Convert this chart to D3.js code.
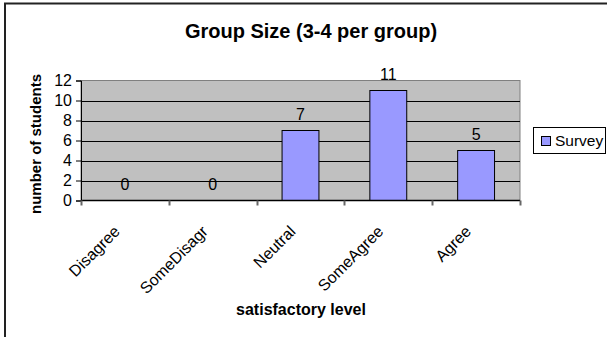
<!DOCTYPE html>
<html>
<head>
<meta charset="utf-8">
<script src="https://cdn.jsdelivr.net/npm/d3@7"></script>
<style>
  html, body { margin: 0; padding: 0; background: #fff; }
  svg { display: block; }
  text { font-family: Arial, "Liberation Sans", sans-serif; fill: #000; }
</style>
</head>
<body>
<svg id="chart" width="607" height="337"></svg>
<script>
// Survey responses by satisfaction level
const categories = ["Disagree", "SomeDisagr", "Neutral", "SomeAgree", "Agree"];
const surveyValues = [0, 0, 7, 11, 5];
const yTicks = [0, 2, 4, 6, 8, 10, 12];
const seriesName = "Survey";
const chartTitle = "Group Size (3-4 per group)";
const xTitle = "satisfactory level";
const yTitle = "number of students";

const svg = d3.select("#chart");

// outer chart frame
svg.append("rect")
  .attr("x", 5).attr("y", 3.5)
  .attr("width", 620).attr("height", 360)
  .attr("fill", "#fff").attr("stroke", "#222").attr("stroke-width", 2);

const plot = { left: 81, right: 520, top: 80.5, bottom: 200.5 };

const x = d3.scaleBand().domain(categories).range([plot.left, plot.right]).padding(0);
const y = d3.scaleLinear().domain([0, 12]).range([plot.bottom, plot.top]);
const barW = x.bandwidth() * 0.42;

// plot area background
svg.append("rect")
  .attr("x", plot.left).attr("y", plot.top)
  .attr("width", plot.right - plot.left).attr("height", plot.bottom - plot.top)
  .attr("fill", "#c0c0c0").attr("stroke", "#808080").attr("stroke-width", 1);

// horizontal gridlines
svg.append("g").selectAll("line")
  .data(yTicks.filter(t => t > 0 && t < 12))
  .join("line")
  .attr("x1", plot.left).attr("x2", plot.right)
  .attr("y1", d => Math.round(y(d)) + 0.5).attr("y2", d => Math.round(y(d)) + 0.5)
  .attr("stroke", "#000").attr("stroke-width", 1);

// bars
svg.append("g").selectAll("rect")
  .data(categories.map((c, i) => ({ c, v: surveyValues[i] })).filter(d => d.v > 0))
  .join("rect")
  .attr("x", d => x(d.c) + x.bandwidth() / 2 - barW / 2)
  .attr("y", d => y(d.v))
  .attr("width", barW)
  .attr("height", d => y(0) - y(d.v))
  .attr("fill", "#9999ff").attr("stroke", "#000").attr("stroke-width", 1);

// value labels
svg.append("g").selectAll("text")
  .data(categories.map((c, i) => ({ c, v: surveyValues[i] })))
  .join("text")
  .attr("x", d => x(d.c) + x.bandwidth() / 2)
  .attr("y", d => y(d.v) - 11)
  .attr("text-anchor", "middle")
  .style("font-size", "16px")
  .text(d => d.v);

// y axis
const yAxis = svg.append("g")
  .attr("transform", `translate(${plot.left},0)`)
  .call(d3.axisLeft(y).tickValues(yTicks).tickSize(5).tickPadding(4));
yAxis.select(".domain").attr("stroke", "#000");
yAxis.selectAll(".tick line").attr("stroke", "#000");
yAxis.selectAll(".tick text")
  .style("font-size", "16px")
  .style("font-family", "Arial, 'Liberation Sans', sans-serif")
  .attr("fill", "#000");

// x axis: ticks at category boundaries
const xAxisG = svg.append("g");
xAxisG.append("line")
  .attr("x1", plot.left).attr("x2", plot.right)
  .attr("y1", plot.bottom).attr("y2", plot.bottom)
  .attr("stroke", "#000").attr("stroke-width", 1.5);
const boundaries = categories.map(c => x(c)).concat([x(categories[categories.length - 1]) + x.bandwidth()]);
xAxisG.selectAll("line.tk")
  .data(boundaries)
  .join("line").attr("class", "tk")
  .attr("x1", d => Math.round(d) + 0.5).attr("x2", d => Math.round(d) + 0.5)
  .attr("y1", plot.bottom).attr("y2", plot.bottom + 5)
  .attr("stroke", "#666").attr("stroke-width", 2);

// rotated category labels
xAxisG.selectAll("text")
  .data(categories)
  .join("text")
  .attr("transform", d => `translate(${x(d) + x.bandwidth() / 2 - 4},${plot.bottom + 32}) rotate(-45)`)
  .attr("text-anchor", "end")
  .style("font-size", "16px")
  .text(d => d);

// titles
svg.append("text")
  .attr("x", 311).attr("y", 38)
  .attr("text-anchor", "middle")
  .style("font-size", "20px").style("font-weight", "bold")
  .text(chartTitle);

svg.append("text")
  .attr("x", 301).attr("y", 315)
  .attr("text-anchor", "middle")
  .style("font-size", "16px").style("font-weight", "bold")
  .text(xTitle);

svg.append("text")
  .attr("transform", "translate(41,144) rotate(-90)")
  .attr("text-anchor", "middle")
  .style("font-size", "15px").style("font-weight", "bold")
  .text(yTitle);

// legend
const lg = svg.append("g");
lg.append("rect")
  .attr("x", 533.5).attr("y", 127.5).attr("width", 72).attr("height", 26)
  .attr("fill", "#fff").attr("stroke", "#000").attr("stroke-width", 1);
lg.append("rect")
  .attr("x", 541.5).attr("y", 136.5).attr("width", 9).attr("height", 9)
  .attr("fill", "#9999ff").attr("stroke", "#000").attr("stroke-width", 1);
lg.append("text")
  .attr("x", 555).attr("y", 146)
  .style("font-size", "15.5px")
  .text(seriesName);
</script>
</body>
</html>
